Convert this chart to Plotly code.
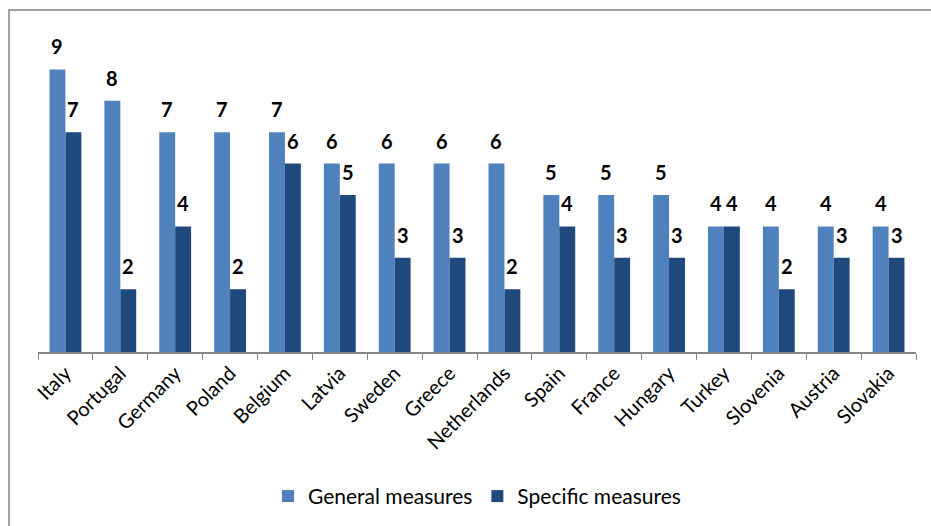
import plotly.graph_objects as go

countries = ["Italy", "Portugal", "Germany", "Poland", "Belgium", "Latvia", "Sweden",
             "Greece", "Netherlands", "Spain", "France", "Hungary", "Turkey", "Slovenia",
             "Austria", "Slovakia"]
general = [9, 8, 7, 7, 7, 6, 6, 6, 6, 5, 5, 5, 4, 4, 4, 4]
specific = [7, 2, 4, 2, 6, 5, 3, 3, 2, 4, 3, 3, 4, 2, 3, 3]

C_GEN = "#4F81BD"
C_SPE = "#1F497D"
FONT = "Lato"

fig = go.Figure()
fig.add_trace(go.Bar(name="General measures", x=countries, y=general,
                     marker=dict(color=C_GEN, line=dict(width=0))))
fig.add_trace(go.Bar(name="Specific measures", x=countries, y=specific,
                     marker=dict(color=C_SPE, line=dict(width=0))))

annotations = []
for c, g, s in zip(countries, general, specific):
    annotations.append(dict(x=c, y=g, text=str(g), showarrow=False, xanchor="center",
                            yanchor="bottom", xshift=-8, yshift=9,
                            font=dict(family=FONT, size=20, color="black", weight="bold")))
    annotations.append(dict(x=c, y=s, text=str(s), showarrow=False, xanchor="center",
                            yanchor="bottom", xshift=8, yshift=9,
                            font=dict(family=FONT, size=20, color="black", weight="bold")))

fig.update_layout(
    width=931, height=526,
    margin=dict(l=38, r=15, t=38, b=174, autoexpand=False),
    paper_bgcolor="white", plot_bgcolor="white",
    barmode="group", bargap=0.42, bargroupgap=0,
    font=dict(family=FONT, color="black"),
    showlegend=True,
    legend=dict(orientation="h", x=0.5, xanchor="center", y=-0.46, yanchor="middle",
                font=dict(family=FONT, size=21), itemwidth=30, tracegroupgap=0),
    annotations=annotations,
    shapes=[dict(type="rect", xref="paper", yref="paper", x0=-0.033, x1=1.1,
                 y0=-0.7, y1=1.089, line=dict(color="#A0A0A0", width=2), layer="below")],
)
fig.update_xaxes(showline=True, linecolor="#868686", linewidth=1.5, ticks="outside",
                 tickson="boundaries", ticklen=6, tickcolor="#868686", tickangle=-45,
                 tickfont=dict(family=FONT, size=20), showgrid=False, automargin=False)
fig.update_yaxes(range=[0, 10], visible=False, showgrid=False, automargin=False)

fig.write_html("out.html", config={"displayModeBar": False},
               post_script="document.body.style.margin='0';document.body.style.overflow='hidden';")
